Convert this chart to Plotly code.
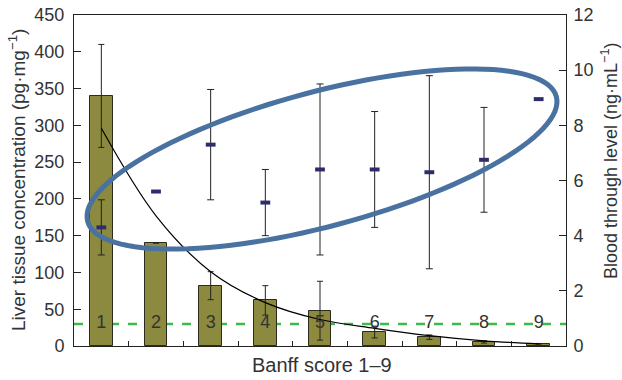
import numpy as np
import plotly.graph_objects as go

# ---- data ----
scores = [1, 2, 3, 4, 5, 6, 7, 8, 9]
score_labels = ["1", "2", "3", "4", "5", "6", "7", "8", "9"]
liver_conc = [340, 140, 82, 62, 48, 19, 12, 5.5, 3]
liver_err = [70, 0, 19, 20, 40, 8, 3, 1.5, 0.5]
fit_curve = [296, 177, 101, 59, 36, 24, 14, 7, 3]
blood_level = [4.3, 5.6, 7.3, 5.2, 6.4, 6.4, 6.3, 6.75, 8.95]
blood_err = [1.0, 0, 2.0, 1.2, 3.1, 2.1, 3.5, 1.9, 0]
threshold = 30
left_ticks = [0, 50, 100, 150, 200, 250, 300, 350, 400, 450]
right_ticks = [0, 2, 4, 6, 8, 10, 12]

W, H = 622, 380
ML, MR, MT, MB = 74, 56, 15, 34
PW, PH = W - ML - MR, H - MT - MB

FONT = "Liberation Sans, Arial, sans-serif"
TXT = "#333333"

fig = go.Figure()

fig.add_trace(go.Bar(
    x=scores, y=liver_conc, width=0.41,
    marker=dict(color="#8c8a3e", line=dict(color="#2b2b1e", width=1)),
    error_y=dict(type="data", array=liver_err, color="#222222", thickness=1, width=3),
    yaxis="y", showlegend=False,
))

fig.add_trace(go.Scatter(
    x=scores, y=fit_curve, mode="lines", line=dict(color="black", width=1.2, shape="spline"),
    yaxis="y", showlegend=False,
))

fig.add_trace(go.Scatter(
    x=scores, y=[threshold] * len(scores), mode="text", text=score_labels,
    textfont=dict(family=FONT, size=18, color=TXT), textposition="middle center",
    yaxis="y", showlegend=False,
))

fig.add_trace(go.Scatter(
    x=scores, y=blood_level, mode="markers",
    marker=dict(symbol="line-ew", size=7, line=dict(color="#2d2d6e", width=4)),
    error_y=dict(type="data", array=blood_err, color="#222222", thickness=1, width=3.5),
    yaxis="y2", showlegend=False,
))

# green dashed threshold line
fig.add_shape(type="line", xref="paper", x0=0, x1=1, yref="y", y0=threshold, y1=threshold,
              line=dict(color="#3dba4e", width=2.5, dash="dash"), layer="below")

# ellipse highlight (annotation) in paper coordinates
cx, cy = (322 - ML) / PW, (MT + PH - 159) / PH
a, b, th = 242.5, 67.3, np.deg2rad(14.9)
t = np.linspace(0, 2 * np.pi, 121)
ex = cx + (a * np.cos(t) * np.cos(th) - b * np.sin(t) * np.sin(th)) / PW
ey = cy + (a * np.cos(t) * np.sin(th) + b * np.sin(t) * np.cos(th)) / PH
path = "M " + " L ".join(f"{x:.4f},{y:.4f}" for x, y in zip(ex, ey)) + " Z"
fig.add_shape(type="path", xref="paper", yref="paper", path=path,
              line=dict(color="#4a72a0", width=5), layer="above")

axis_common = dict(showline=True, linecolor="#222222", linewidth=1, ticks="inside",
                   tickcolor="#222222", showgrid=False, zeroline=False, automargin=False,
                   tickfont=dict(family=FONT, size=18, color=TXT))

fig.update_layout(
    width=W, height=H,
    margin=dict(l=ML, r=MR, t=MT, b=MB, autoexpand=False),
    paper_bgcolor="white", plot_bgcolor="white",
    bargap=0,
    xaxis=dict(range=[0.5, 9.5], tickvals=[1.5, 2.5, 3.5, 4.5, 5.5, 6.5, 7.5, 8.5],
               showticklabels=False, ticklen=5, mirror=True,
               **{k: v for k, v in axis_common.items() if k != "tickfont"}),
    yaxis=dict(range=[0, 450], tickvals=left_ticks, ticklen=7, ticklabelstandoff=5, **axis_common),
    yaxis2=dict(range=[0, 12], tickvals=right_ticks, ticklen=7, ticklabelstandoff=3,
                overlaying="y", side="right", **axis_common),
    annotations=[
        dict(text="Liver tissue concentration (pg·mg<sup>−1</sup>)", textangle=-90,
             xref="paper", yref="paper", x=(17 - ML) / PW, y=(MT + PH - 180) / PH,
             xanchor="center", yanchor="middle", showarrow=False,
             font=dict(family=FONT, size=19, color=TXT)),
        dict(text="Blood through level (ng·mL<sup>−1</sup>)", textangle=-90,
             xref="paper", yref="paper", x=(609 - ML) / PW, y=(MT + PH - 161) / PH,
             xanchor="center", yanchor="middle", showarrow=False,
             font=dict(family=FONT, size=18, color=TXT)),
        dict(text="Banff score 1–9", xref="paper", yref="paper",
             x=(322 - ML) / PW, y=(MT + PH - 365) / PH,
             xanchor="center", yanchor="middle", showarrow=False,
             font=dict(family=FONT, size=20, color=TXT)),
    ],
)

fig.write_html("out.html", config={"displayModeBar": False},
               post_script="document.body.style.margin='0';document.body.style.overflow='hidden';")
